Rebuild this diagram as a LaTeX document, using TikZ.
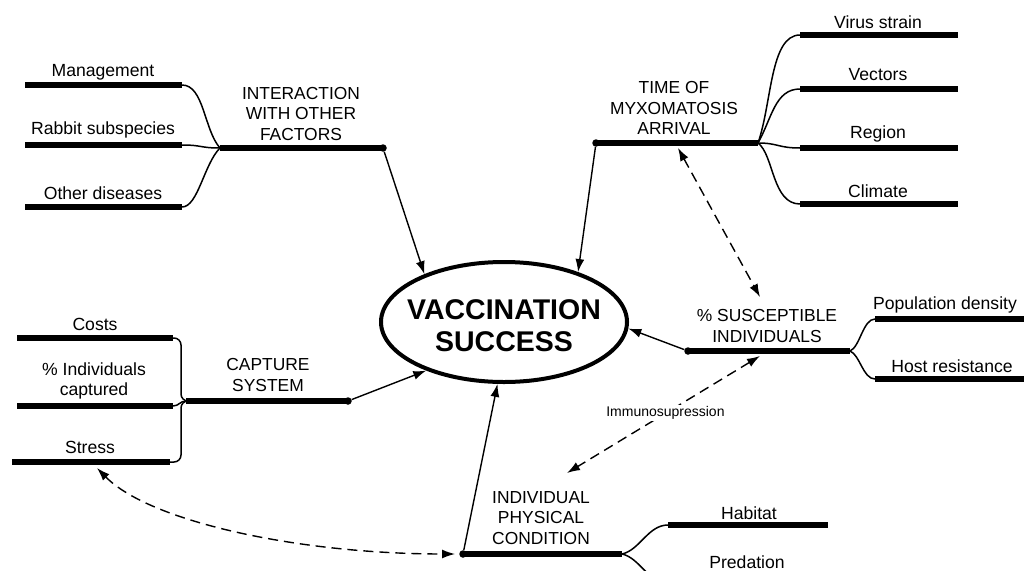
\documentclass[tikz,border=0pt]{standalone}
\usepackage{fontspec}
\setmainfont{Liberation Sans}
\usetikzlibrary{arrows.meta,shapes.geometric}
\begin{document}
\begin{tikzpicture}[x=1pt,y=-1pt,
  bar/.style={line width=5.5pt},
  twig/.style={line width=1.5pt},
  bracepath/.style={line width=1.5pt,rounded corners=7pt},
  link/.style={line width=1.4pt,-{Latex[length=13pt,width=9pt]}},
  dlink/.style={line width=1.4pt,dash pattern=on 10pt off 6pt,{Latex[length=13pt,width=9pt]}-{Latex[length=13pt,width=9pt]}},
  bdot/.style={circle,fill,inner sep=0pt,minimum size=7.5pt},
  caplbl/.style={font=\fontsize{17.4}{20.5}\selectfont,align=center,inner sep=0pt},
  lab/.style={font=\fontsize{17.6}{20}\selectfont,align=center,inner sep=0pt},
  smalllbl/.style={font=\fontsize{14}{16}\selectfont,inner sep=1.5pt,fill=white},
]
\useasboundingbox (0,0) rectangle (1024,570);
\clip (0,0) rectangle (1024,570);

% central ellipse
\node[ellipse,draw,line width=4pt,minimum width=246pt,minimum height=120pt,inner sep=0pt] (vs) at (504,322) {};
\node[font=\bfseries\fontsize{28.5}{32}\selectfont,align=center,inner sep=0pt] (vstext) at (504,326) {VACCINATION\\SUCCESS};

% ---------- interaction with other factors
\coordinate (iJ) at (220,148); \coordinate (iE) at (383,148);
\coordinate (m1) at (25,85);  \coordinate (m2) at (182,85);
\coordinate (r1) at (25,145); \coordinate (r2) at (182,145);
\coordinate (o1) at (25,207); \coordinate (o2) at (182,207);
\draw[bar] (iJ) -- (iE);
\draw[bar] (m1) -- (m2);
\draw[bar] (r1) -- (r2);
\draw[bar] (o1) -- (o2);
\draw[twig] (m2) .. controls +(22,0) and +(-16,-18) .. (iJ);
\draw[twig] (r2) .. controls +(20,0) and +(-20,0) .. (iJ);
\draw[twig] (o2) .. controls +(16,0) and +(-16,16) .. (iJ);
\node[lab] (mlab) at (103,72) {Management};
\node[lab] (rlab) at (103,130) {Rabbit subspecies};
\node[lab] (olab) at (103,193) {Other diseases};
\node[caplbl] (ilab) at (301,114) {INTERACTION\\WITH OTHER\\FACTORS};
\node[bdot] (iDot) at (iE) {};

% ---------- time of myxomatosis arrival
\coordinate (tA) at (596,143); \coordinate (tJ) at (758,143);
\coordinate (v1) at (800,35);  \coordinate (v2) at (958,35);
\coordinate (e1) at (800,89);  \coordinate (e2) at (958,89);
\coordinate (g1) at (800,148); \coordinate (g2) at (958,148);
\coordinate (k1) at (800,204); \coordinate (k2) at (958,204);
\draw[bar] (tA) -- (tJ);
\draw[bar] (v1) -- (v2);
\draw[bar] (e1) -- (e2);
\draw[bar] (g1) -- (g2);
\draw[bar] (k1) -- (k2);
\draw[twig] (tJ) .. controls +(14,-40) and +(-30,0) .. (v1);
\draw[twig] (tJ) .. controls +(14,-25) and +(-25,0) .. (e1);
\draw[twig] (tJ) .. controls +(20,0) and +(-22,0) .. (g1);
\draw[twig] (tJ) .. controls +(16,12) and +(-28,0) .. (k1);
\node[lab] (vlab) at (878,22) {Virus strain};
\node[lab] (elab) at (878,75) {Vectors};
\node[lab] (glab) at (878,134) {Region};
\node[lab] (klab) at (878,191) {Climate};
\node[caplbl] (tlab) at (674,108) {TIME OF\\MYXOMATOSIS\\ARRIVAL};
\node[bdot] (tDot) at (tA) {};

% ---------- capture system
\coordinate (cJ) at (186,401); \coordinate (cE) at (348,401);
\coordinate (c1) at (17,338);  \coordinate (c2) at (173,338);
\coordinate (p1) at (17,406);  \coordinate (p2) at (173,406);
\coordinate (s1) at (12,462);  \coordinate (s2) at (170,462);
\draw[bar] (cJ) -- (cE);
\draw[bar] (c1) -- (c2);
\draw[bar] (p1) -- (p2);
\draw[bar] (s1) -- (s2);
\draw[bracepath] (c2) -- (181,338) -- (181,401) -- (cJ);
\draw[bracepath] (s2) -- (181,462) -- (181,401) -- (cJ);
\draw[twig] (p2) .. controls +(6,0) and +(-6,0) .. (cJ);
\node[lab] (clab) at (95,324) {Costs};
\node[lab] (plab) at (94,381) {\% Individuals\\captured};
\node[lab] (slab) at (90,447) {Stress};
\node[caplbl] (caplab) at (268,375) {CAPTURE\\SYSTEM};
\node[bdot] (cDot) at (cE) {};

% ---------- % susceptible individuals
\coordinate (uA) at (688,351); \coordinate (uJ) at (850,351);
\coordinate (n1) at (875,319); \coordinate (n2) at (1030,319);
\coordinate (h1) at (875,379); \coordinate (h2) at (1030,379);
\draw[bar] (uA) -- (uJ);
\draw[bar] (n1) -- (n2);
\draw[bar] (h1) -- (h2);
\draw[twig] (uJ) .. controls +(10,-4) and +(-12,0) .. (n1);
\draw[twig] (uJ) .. controls +(10,4) and +(-12,0) .. (h1);
\node[lab] (nlab) at (945,305) {Population density};
\node[lab] (hlab) at (952,366) {Host resistance};
\node[caplbl] (ulab) at (767,326) {\% SUSCEPTIBLE\\INDIVIDUALS};
\node[bdot] (uDot) at (uA) {};

% ---------- individual physical condition
\coordinate (dA) at (463,554); \coordinate (dJ) at (622,554);
\coordinate (b1) at (668,525); \coordinate (b2) at (828,525);
\coordinate (q1) at (668,583); \coordinate (q2) at (828,583);
\draw[bar] (dA) -- (dJ);
\draw[bar] (b1) -- (b2);
\draw[bar] (q1) -- (q2);
\draw[twig] (dJ) .. controls +(18,-4) and +(-20,0) .. (b1);
\draw[twig] (dJ) .. controls +(18,4) and +(-20,0) .. (q1);
\node[lab] (blab) at (749,513) {Habitat};
\node[lab] (qlab) at (747,562) {Predation};
\node[caplbl] (dlab) at (541,518) {INDIVIDUAL\\PHYSICAL\\CONDITION};
\node[bdot] (dDot) at (dA) {};

% ---------- arrows to the ellipse
\draw[link] (iDot) -- (vs.149);
\draw[link] (tDot) -- (vs.34);
\draw[link] (uDot) -- (vs.-3);
\draw[link] (cDot) -- (vs.212);
\draw[link] (dDot) -- (vs.264);

% ---------- dashed relations
\coordinate (x1) at (678,148); \coordinate (x2) at (760,297);
\draw[dlink] (x1) -- (x2);
\coordinate (y1) at (760,356); \coordinate (y2) at (567,473);
\draw[dlink] (y1) -- node[smalllbl,pos=0.49] (imm) {Immunosupression} (y2);
\coordinate (z1) at (97,468); \coordinate (z2) at (455,554);
\draw[dlink] (z1) .. controls (150,522) and (300,554) .. (z2);
\end{tikzpicture}
\end{document}
